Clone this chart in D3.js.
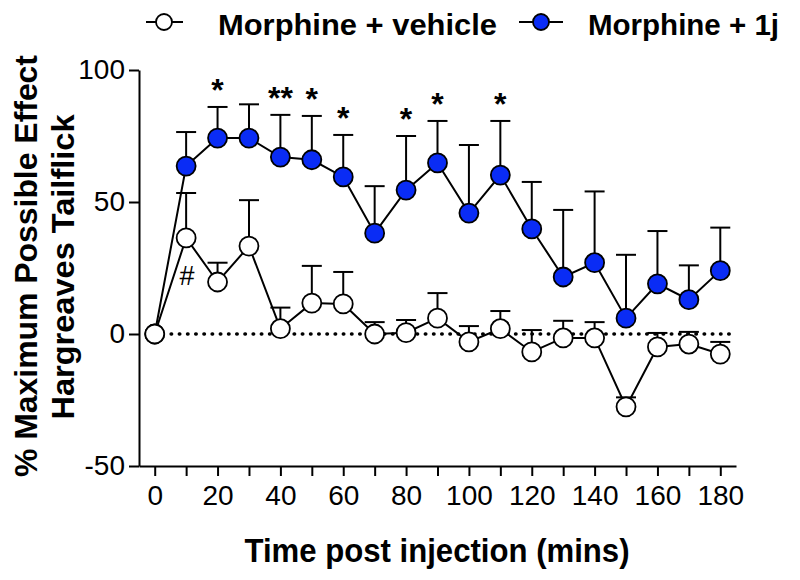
<!DOCTYPE html>
<html>
<head>
<meta charset="utf-8">
<script src="https://cdn.jsdelivr.net/npm/d3@7"></script>
<style>
  body { margin: 0; background: #fff; }
  svg { font-family: "Liberation Sans", Arial, sans-serif; }
</style>
</head>
<body>
<svg id="chart" width="800" height="580"></svg>
<script>
// Data
const times = [0, 10, 20, 30, 40, 50, 60, 70, 80, 90, 100, 110, 120, 130, 140, 150, 160, 170, 180];
const vehicleMean = [0, 36.4, 19.7, 33.3, 2, 11.7, 11.4, 0, 0.5, 6, -3, 2, -6.8, -1.5, -1.5, -27.6, -4.9, -3.8, -7.6];
const vehicleSem  = [0, 17, 7.3, 17.4, 8, 14.1, 12.1, 4.5, 4.8, 9.5, 6, 6.7, 8.3, 6.5, 6, 3.6, 5.3, 4.6, 4.6];
const drugMean = [0, 63.6, 74.2, 74.2, 67, 66, 59.5, 38.2, 54.5, 64.8, 45.8, 60.2, 39.8, 21.6, 27, 6, 19, 13, 24];
const drugSem  = [0, 12.9, 11.8, 12.8, 16, 16.6, 15.9, 17.8, 20.5, 15.9, 25.8, 20.5, 17.8, 25.4, 27, 24, 20, 13, 16.3];
const seriesNames = ["Morphine + vehicle", "Morphine + 1j"];
const seriesFill = ["#ffffff", "#0a2cf5"];
const stars = [[20, "*"], [40, "**"], [50, "*"], [60, "*"], [80, "*"], [90, "*"], [110, "*"]];
const hashMark = [10, "#"];
const yTicks = [-50, 0, 50, 100];
const xTicks = d3.range(0, 181, 10);

const svg = d3.select("#chart");

const x = d3.scaleLinear().domain([-5, 185]).range([139, 736]);
const y = d3.scaleLinear().domain([-50, 100]).range([466, 70]);

// axes
const xAxis = svg.append("g")
  .attr("transform", `translate(0,${y(-50)})`)
  .call(d3.axisBottom(x).tickValues(xTicks).tickSize(10).tickSizeOuter(0).tickPadding(9)
    .tickFormat(d => d % 20 === 0 ? String(d) : ""));
const yAxis = svg.append("g")
  .attr("transform", `translate(${x(-5)},0)`)
  .call(d3.axisLeft(y).tickValues(yTicks).tickSize(10).tickSizeOuter(0).tickPadding(4)
    .tickFormat(d => String(d)));
[xAxis, yAxis].forEach(a => {
  a.selectAll("path, line").attr("stroke", "#000").attr("stroke-width", 2);
  a.selectAll("text").attr("fill", "#000").style("font-size", "28px")
    .style("font-family", "'Liberation Sans', Arial, sans-serif");
});

// zero reference line
svg.append("line")
  .attr("x1", x(0)).attr("x2", x(183))
  .attr("y1", y(0)).attr("y2", y(0))
  .attr("stroke", "#000").attr("stroke-width", 3.5)
  .attr("stroke-linecap", "round")
  .attr("stroke-dasharray", "0.5,7.7");

const series = [
  { name: seriesNames[1], mean: drugMean, sem: drugSem, fill: seriesFill[1] },
  { name: seriesNames[0], mean: vehicleMean, sem: vehicleSem, fill: seriesFill[0] }
];

const line = d3.line().x(d => x(d.t)).y(d => y(d.m));

series.forEach(s => {
  const pts = times.map((t, i) => ({ t: t, m: s.mean[i], e: s.sem[i] }));
  svg.append("path").datum(pts)
    .attr("fill", "none").attr("stroke", "#000").attr("stroke-width", 2)
    .attr("d", line);

  const err = svg.append("g");
  pts.filter(d => d.e > 0).forEach(d => {
    err.append("line")
      .attr("x1", x(d.t)).attr("x2", x(d.t))
      .attr("y1", y(d.m)).attr("y2", y(d.m + d.e))
      .attr("stroke", "#000").attr("stroke-width", 2);
    err.append("line")
      .attr("x1", x(d.t) - 10).attr("x2", x(d.t) + 10)
      .attr("y1", y(d.m + d.e)).attr("y2", y(d.m + d.e))
      .attr("stroke", "#000").attr("stroke-width", 2);
  });

  svg.append("g").selectAll("circle").data(pts).enter().append("circle")
    .attr("cx", d => x(d.t)).attr("cy", d => y(d.m))
    .attr("r", 9.5)
    .attr("fill", s.fill).attr("stroke", "#000").attr("stroke-width", 1.8);
});

// significance marks
stars.forEach(([t, lab]) => {
  const i = times.indexOf(t);
  svg.append("text")
    .attr("x", x(t)).attr("y", y(drugMean[i] + drugSem[i]) - 6)
    .attr("text-anchor", "middle")
    .style("font-size", "32px").style("font-weight", "bold")
    .text(lab);
});
{
  const i = times.indexOf(hashMark[0]);
  svg.append("text")
    .attr("x", x(hashMark[0]) + 1).attr("y", y(vehicleMean[i]) + 47)
    .attr("text-anchor", "middle")
    .style("font-size", "27px")
    .text(hashMark[1]);
}

// axis titles
svg.append("text")
  .attr("x", 437).attr("y", 562)
  .attr("text-anchor", "middle")
  .attr("textLength", 385).attr("lengthAdjust", "spacingAndGlyphs")
  .style("font-size", "33px").style("font-weight", "bold")
  .text("Time post injection (mins)");

svg.append("text")
  .attr("transform", "translate(37,266) rotate(-90)")
  .attr("text-anchor", "middle")
  .attr("textLength", 422).attr("lengthAdjust", "spacingAndGlyphs")
  .style("font-size", "31px").style("font-weight", "bold")
  .text("% Maximum Possible Effect");
svg.append("text")
  .attr("transform", "translate(74,267) rotate(-90)")
  .attr("text-anchor", "middle")
  .attr("textLength", 305).attr("lengthAdjust", "spacingAndGlyphs")
  .style("font-size", "31px").style("font-weight", "bold")
  .text("Hargreaves Tailflick");

// legend
const legendPos = [
  { cx: 164, x1: 146, x2: 183, tx: 218, tl: 279 },
  { cx: 541, x1: 519, x2: 563, tx: 588, tl: 191 }
];
seriesNames.forEach((name, i) => {
  const p = legendPos[i];
  const lg = svg.append("g");
  lg.append("line").attr("x1", p.x1).attr("x2", p.x2).attr("y1", 22).attr("y2", 22)
    .attr("stroke", "#000").attr("stroke-width", 2);
  lg.append("circle").attr("cx", p.cx).attr("cy", 22).attr("r", 8)
    .attr("fill", seriesFill[i]).attr("stroke", "#000").attr("stroke-width", 1.8);
  lg.append("text").attr("x", p.tx).attr("y", 35)
    .attr("textLength", p.tl).attr("lengthAdjust", "spacingAndGlyphs")
    .style("font-size", "29px").style("font-weight", "bold")
    .text(name);
});
</script>
</body>
</html>
